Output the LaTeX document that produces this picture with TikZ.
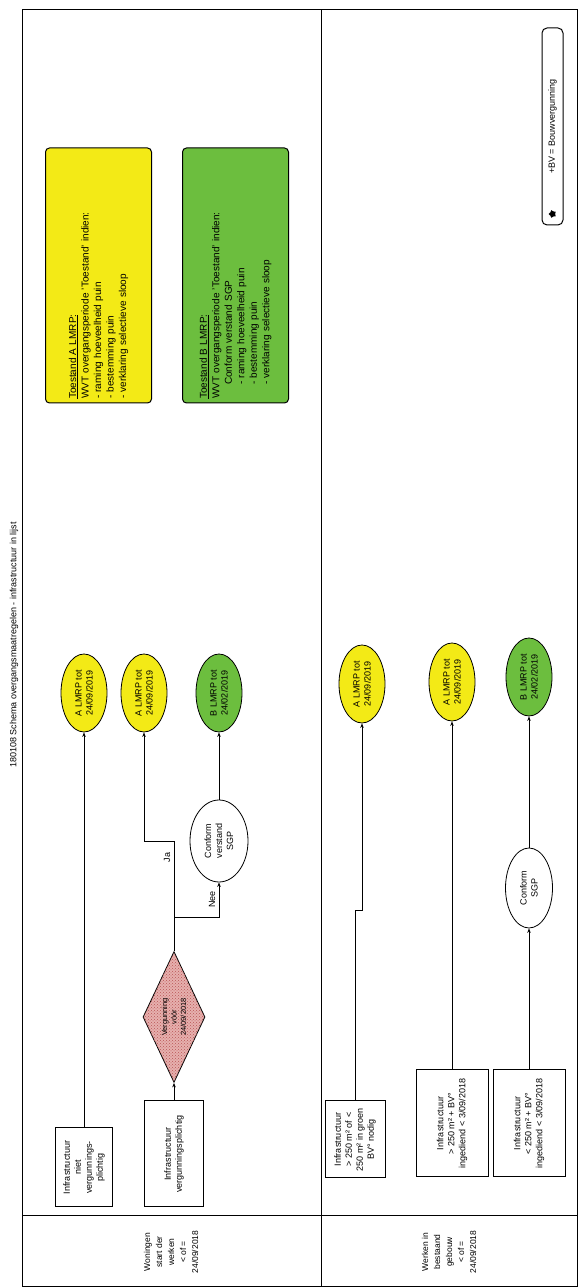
\documentclass[tikz,border=0pt]{standalone}
\usepackage{fontspec}
\setmainfont{Liberation Sans}
\usetikzlibrary{shapes.geometric,arrows.meta,patterns,positioning}
\definecolor{lmrpgeel}{RGB}{243,234,22}
\definecolor{lmrpgroen}{RGB}{108,190,62}
\definecolor{vraagroze}{RGB}{230,176,174}
\definecolor{vraagstip}{RGB}{185,85,85}

\begin{document}
\begin{tikzpicture}[x=1pt,y=-1pt,rotate=90,transform shape,
        font=\fontsize{9}{11}\selectfont,
        >={Stealth[length=4.5pt,width=3.5pt]},
        line width=0.8pt,
        infra/.style={draw,line width=1pt,align=center,inner sep=2pt},
        vraag/.style={diamond,draw,aspect=2,fill=vraagroze,
            postaction={pattern=crosshatch dots,pattern color=vraagstip},
            minimum width=131,minimum height=62,inner sep=0pt,align=center,
            font=\fontsize{7.5}{9.5}\selectfont},
        sgp/.style={ellipse,draw,fill=white,minimum width=82,minimum height=58,inner sep=0pt,align=center},
        lmrpA/.style={ellipse,draw,fill=lmrpgeel,minimum width=78,minimum height=46,inner sep=0pt,align=center},
        lmrpB/.style={lmrpA,fill=lmrpgroen},
        legende/.style={draw,line width=1pt,rounded corners=4pt,minimum width=255,minimum height=106,
            text width=247,inner sep=4pt,align=left,font=\fontsize{10}{12.5}\selectfont},
        kop/.style={align=center,font=\fontsize{8.5}{12}\selectfont},
        kader/.style={line width=1pt}]
    \useasboundingbox (0,0) rectangle (1288,580);

    % kader en banen
    \draw[kader] (1,22.7) rectangle (1278,577);
    \draw[kader] (72,22.7) -- (72,577);
    \draw[kader] (1,321) -- (1278,321);
    \node[font=\fontsize{9}{11}\selectfont] (titel) at (643,14) {180108 Schema overgangsmaatregelen - infrastructuur in lijst};
    \node[kop] (kop1) at (36,171) {Woningen\\start der\\werken\\< of =\\24/09/2018};
    \node[kop] (kop2) at (36,449) {Werken in\\bestaand\\gebouw\\< of =\\24/09/2018};

    % baan 1
    \node[infra,minimum width=79,minimum height=57] (nietvp) at (120.5,84) {Infrastructuur\\niet\\vergunnings-\\plichtig};
    \node[infra,minimum width=106,minimum height=59] (vp) at (134,174) {Infrastructuur\\vergunningsplichtig};
    \node[vraag] (verg) at (271,174) {Vergunning\\vóór\\24/09/2018};
    \node[sgp] (sgp1) at (447,219) {Conform\\verstand\\SGP};
    \node[lmrpA] (a1) at (595,84) {A LMRP tot\\24/09/2019};
    \node[lmrpA] (a2) at (595,144) {A LMRP tot\\24/09/2019};
    \node[lmrpB] (b1) at (595,219) {B LMRP tot\\24/02/2019};
    \coordinate (splits) at (371,174);
    \coordinate (ja1) at (447,174);
    \coordinate (ja2) at (447,144);
    \coordinate (nee) at (371,219);
    \draw[->] (nietvp) -- (a1);
    \draw[->] (vp) -- (verg);
    \draw (verg) -- (splits);
    \draw[->] (splits) -- node[above,pos=0.78] {Ja} (ja1) -- (ja2) -- (a2);
    \draw[->] (splits) -- (nee) -- node[above] {Nee} (sgp1);
    \draw[->] (sgp1) -- (b1);

    % baan 2
    \node[infra,minimum width=77,minimum height=60] (klein) at (148.5,355) {Infrastructuur\\> 250 m² of <\\250 m² in groen\\BV° nodig};
    \node[infra,minimum width=107,minimum height=72] (groot) at (164.5,452) {Infrastructuur\\> 250 m² + BV°\\ingediend < 3/09/2018};
    \node[infra,minimum width=107,minimum height=72] (kleinbv) at (164.5,529) {Infrastructuur\\< 250 m² + BV°\\ingediend < 3/09/2018};
    \node[sgp,minimum width=80,minimum height=47] (sgp2) at (400,529) {Conform\\SGP};
    \node[lmrpA] (a3) at (604,362) {A LMRP tot\\24/09/2019};
    \node[lmrpA] (a4) at (606,452) {A LMRP tot\\24/09/2019};
    \node[lmrpB] (b2) at (611,529) {B LMRP tot\\24/02/2019};
    \coordinate (knik1) at (378,355);
    \coordinate (knik2) at (378,362);
    \draw[->] (klein) -- (knik1) -- (knik2) -- (a3);
    \draw[->] (groot) -- (a4);
    \draw[->] (kleinbv) -- (sgp2);
    \draw[->] (sgp2) -- (b2);

    % legende
    \node[legende,fill=lmrpgeel] (toestA) at (1012.5,98.5) {\underline{Toestand A LMRP:}\\
        WVT overgangsperiode 'Toestand' indien:\\
        - raming hoeveelheid puin\\
        - bestemming puin\\
        - verklaring selectieve sloop};
    \node[legende,fill=lmrpgroen] (toestB) at (1012.5,235.5) {\underline{Toestand B LMRP:}\\
        WVT overgangsperiode 'Toestand' indien:\\
        \hspace*{14pt}Conform verstand SGP\\
        \hspace*{14pt}- raming hoeveelheid puin\\
        \hspace*{14pt}- bestemming puin\\
        \hspace*{14pt}- verklaring selectieve sloop};
    \node[draw,line width=1pt,rounded corners=5pt,minimum width=197,minimum height=21] (bv) at (1161.5,552.5) {+BV = Bouwvergunning};
    \node[star,star points=5,fill=black,minimum size=8pt,inner sep=0pt] (ster) at (1074,552.5) {};
\end{tikzpicture}
\end{document}
